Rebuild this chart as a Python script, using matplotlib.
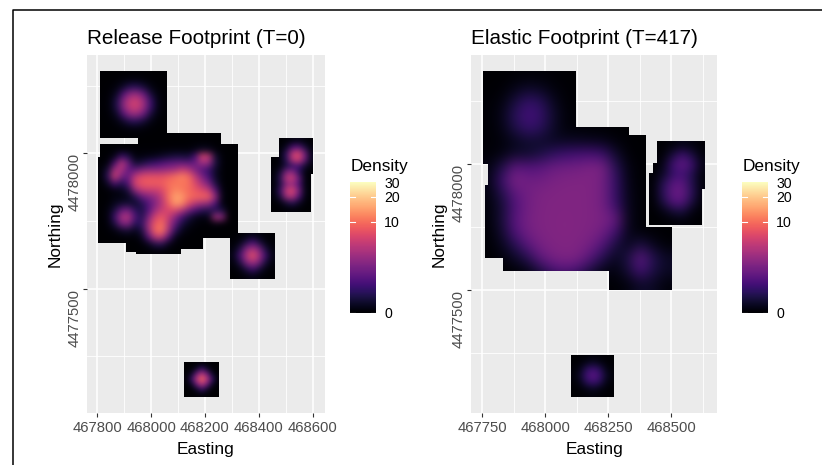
import numpy as np
import matplotlib
matplotlib.use("Agg")
import matplotlib.pyplot as plt
from matplotlib.cm import ScalarMappable
from matplotlib.colors import FuncNorm
from matplotlib.lines import Line2D
from matplotlib.path import Path
from matplotlib.ticker import FixedLocator

plt.rcParams['font.family'] = ['Liberation Sans', 'DejaVu Sans']

# 1) Left panel density, read off the picture on coarse grids (north to south)
rel_top = [
    [0, 0, .005, .01, .02, .02, .01, .005, 0, 0],
    [0, .005, .03, .07, .11, .12, .08, .03, .01, 0],
    [.003, .03, .1, .33, .7, .7, .4, .13, .03, .005],
    [.01, .06, .3, 1.4, 3, 3.1, 1.7, .4, .09, .015],
    [.015, .09, .6, 2.8, 5.2, 5.6, 3.2, .9, .13, .02],
    [.015, .09, .6, 2.8, 5.2, 5.6, 3.2, .9, .13, .02],
    [.01, .06, .3, 1.4, 3, 3.1, 1.7, .4, .09, .015],
    [.003, .03, .1, .33, .7, .7, .4, .13, .03, .005],
    [0, .005, .03, .07, .11, .12, .08, .03, .01, 0],
    [0, 0, .005, .01, .02, .02, .01, .005, 0, 0],
]
rel_main = [
    [0] * 21,
    [0, 0, .005, .01, .005, .005, .005, .005, .01, .01, .01, .01, .01, .02, .03, .04, .03, .01, 0, 0, 0],
    [0, .01, .03, .05, .03, .02, .03, .03, .04, .05, .06, .07, .07, .08, .15, .3, .25, .08, .02, 0, 0],
    [.01, .04, .2, 1, .6, .1, .1, .15, .2, .3, .4, .5, .5, .45, 1.2, 6.5, 5, .4, .05, .01, 0],
    [.02, .1, 1.2, 5, 2, .4, .5, .8, 1, 1.3, 1.6, 1.8, 1.9, 1.7, 2, 3.5, 3, .5, .06, .01, 0],
    [.05, .5, 4, 4.2, 1.7, 1.8, 2.5, 3, 3, 3.2, 3.5, 4, 5.5, 4.5, 2.5, 1.5, .9, .3, .05, .01, 0],
    [.05, .8, 6, 2.2, 1.8, 5, 7, 7.5, 7.5, 7.5, 8.5, 10, 11.5, 9.5, 5, 2.5, 1.2, .3, .05, 0, 0],
    [.02, .3, 1.2, .6, 1.4, 6, 8, 8.5, 8.5, 8.5, 10, 10.5, 10.5, 10, 6.5, 4, 2.2, .5, .06, 0, 0],
    [.01, .05, .1, .2, .5, 3, 5, 5.5, 5.5, 6.5, 9.5, 12, 11, 9.5, 8, 6.5, 5, 1.4, .1, .01, 0],
    [.01, .03, .1, .1, .2, .6, 1.7, 2.4, 3.2, 5, 10, 15, 14, 10, 9, 9, 8.5, 3, .15, .01, 0],
    [.01, .05, .2, .35, .4, .3, .6, 1.4, 2.6, 4.5, 8.5, 14, 12, 7, 4.5, 3.5, 3, 1.2, .1, .01, 0],
    [.01, .1, .5, 1.8, 2.2, .8, .5, 1.4, 3.5, 5.5, 6.5, 6.5, 4.5, 2.2, 1.2, .7, .6, .6, .5, .02, 0],
    [.01, .1, 1, 4, 4.5, 1.4, .6, 2.4, 6, 8, 5.5, 2.8, 1.2, .5, .2, .1, .2, 4, 3, .01, 0],
    [.01, .08, .5, 2.2, 2.6, .7, .8, 3.5, 8, 10, 4.5, 1.7, .5, .2, .08, .03, .02, .1, .05, 0, 0],
    [.01, .03, .1, .3, .4, .2, .5, 3, 9, 10.5, 4, .8, .2, .06, .02, .01, 0, .01, 0, 0, 0],
    [0, .01, .02, .04, .05, .05, .2, 1.4, 4.5, 5, 1.4, .2, .05, .02, 0, 0, 0, 0, 0, 0, 0],
    [0, 0, 0, .01, .01, .01, .05, .2, .6, .7, .2, .05, .01, 0, 0, 0, 0, 0, 0, 0, 0],
    [0, 0, 0, 0, 0, 0, .01, .03, .05, .05, .03, .01, 0, 0, 0, 0, 0, 0, 0, 0, 0],
]
rel_se = [
    [.01, .03, .08, .15, .08, .03, .01],
    [.03, .12, .5, 1.1, .5, .12, .03],
    [.08, .5, 2.4, 4, 2.4, .5, .08],
    [.15, 1.1, 4, 7.5, 4, 1.1, .15],
    [.08, .5, 2.4, 4, 2.4, .5, .08],
    [.03, .12, .5, 1.1, .5, .12, .03],
    [.01, .03, .08, .15, .08, .03, .01],
]
rel_ne = [
    [0, .01, .05, .1, .15, .07, .02],
    [0, .04, .25, 1.2, 1.5, .5, .07],
    [0, .07, .8, 5, 6.5, 2.2, .2],
    [.01, .07, .7, 4.5, 6, 2, .2],
    [.02, .1, .5, .9, 1.2, .4, .07],
    [.05, .4, 2.4, 3, .8, .1, .01],
    [.06, .7, 4.5, 5.5, 2, .15, .01],
    [.05, .5, 2.6, 3.4, 1.4, .15, .01],
    [.07, .9, 5, 6.5, 2.4, .2, .02],
    [.06, .5, 3.4, 4.5, 1.4, .15, .01],
    [.02, .1, .4, .7, .3, .06, .01],
    [0, .02, .05, .06, .05, .01, 0],
]
rel_south = [
    [0, .01, .03, .05, .03, .01, 0],
    [.01, .05, .3, .9, .3, .05, .01],
    [.03, .3, 2, 4.5, 2, .3, .03],
    [.05, .9, 4.5, 9, 4.5, .9, .05],
    [.03, .3, 2, 4.5, 2, .3, .03],
    [.01, .05, .3, .9, .3, .05, .01],
    [0, .01, .03, .05, .03, .01, 0],
]

# 2) Right panel density
ela_main = [
    [0, .01, .03, .05, .05, .03, .01, 0, 0, 0, 0, 0, 0, 0, 0],
    [.01, .03, .16, .32, .26, .1, .03, 0, 0, 0, 0, 0, 0, 0, 0],
    [.03, .1, .47, .88, .75, .26, .05, .02, 0, 0, 0, 0, 0, 0, 0],
    [.03, .16, .7, 1.12, .95, .37, .08, .03, .01, .01, 0, 0, 0, 0, 0],
    [.03, .13, .52, .88, .75, .32, .08, .05, .03, .02, .01, 0, 0, 0, 0],
    [.03, .08, .2, .34, .32, .25, .25, .25, .22, .18, .08, .02, 0, 0, 0],
    [.05, .12, .32, .34, .5, .8, 1, 1.1, 1.2, 1, .35, .05, .01, 0, 0],
    [.12, .55, 1.6, 1.4, 1.5, 1.9, 2.05, 2.15, 2.4, 2.3, .7, .12, .02, 0, 0],
    [.15, 1, 2.4, 2.05, 2.05, 2.3, 2.45, 2.5, 2.5, 2.2, .9, .15, .02, 0, 0],
    [.1, .6, 1.6, 2.1, 2.4, 2.5, 2.55, 2.55, 2.5, 2.2, .9, .18, .03, 0, 0],
    [.08, .4, 1.3, 2.1, 2.45, 2.55, 2.55, 2.55, 2.5, 2.2, 1, .2, .03, 0, 0],
    [.06, .45, 1.5, 2.2, 2.5, 2.55, 2.6, 2.55, 2.5, 2.35, 1.9, .22, .03, 0, 0],
    [.04, .35, 1.3, 2.1, 2.45, 2.55, 2.6, 2.55, 2.45, 2.1, 1.1, .2, .05, .03, 0],
    [.03, .2, .65, 1.5, 2.25, 2.5, 2.55, 2.5, 2.2, 1.4, .5, .18, .52, .2, .05],
    [.01, .08, .26, .63, 1.6, 2.25, 2.45, 2.3, 1.5, .65, .22, .52, 1.7, .63, .26],
    [0, .02, .05, .13, .52, 1.15, 1.45, 1.15, .52, .16, .1, .4, 1.2, .52, .26],
    [0, 0, .01, .03, .08, .2, .32, .2, .08, .03, .03, .1, .32, .26, .08],
]
ela_ne = [
    [0, .02, .08, .16, .1, .03],
    [0, .05, .47, 1.05, .52, .08],
    [.02, .16, 1.05, 1.8, 1.05, .16],
    [.03, .26, .86, 1.15, .63, .08],
    [.05, .63, 1.5, 1.6, .63, .08],
    [.05, .75, 1.8, 1.85, .75, .08],
    [.03, .52, 1.45, 1.5, .52, .05],
    [.02, .13, .4, .52, .13, .02],
    [0, .02, .05, .08, .03, 0],
]
ela_south = [
    [.01, .02, .05, .07, .05, .02, .01],
    [.02, .08, .2, .34, .2, .08, .02],
    [.05, .2, .75, 1.05, .75, .2, .05],
    [.07, .34, 1.05, 1.6, 1.05, .34, .07],
    [.05, .2, .75, 1.05, .75, .2, .05],
    [.02, .08, .2, .34, .2, .08, .02],
    [.01, .02, .05, .07, .05, .02, .01],
]

# 3) Footprint outlines (Easting, Northing) and grid extents
rel_top_out = [(467810, 4478056), (467810, 4478305), (468060, 4478305), (468060, 4478056)]
rel_main_out = [(467801, 4477985), (467810, 4477985), (467810, 4478034), (467950, 4478034),
                (467950, 4478056), (468060, 4478056), (468060, 4478074), (468261, 4478074),
                (468261, 4478034), (468322, 4478034), (468322, 4477706), (468293, 4477706),
                (468293, 4477686), (468194, 4477686), (468194, 4477645), (468112, 4477645),
                (468112, 4477628), (467944, 4477628), (467944, 4477637), (467905, 4477637),
                (467905, 4477668), (467801, 4477668)]
rel_se_out = [(468293, 4477535), (468293, 4477706), (468460, 4477706), (468460, 4477535)]
rel_ne_out = [(468475, 4478055), (468601, 4478055), (468601, 4477924), (468593, 4477924),
              (468593, 4477784), (468444, 4477784), (468444, 4477985), (468475, 4477985)]
rel_south_out = [(468121, 4477099), (468121, 4477230), (468253, 4477230), (468253, 4477099)]
ela_main_out = [(467753, 4477999), (467753, 4478370), (468121, 4478370), (468121, 4478148),
                (468334, 4478148), (468334, 4478116), (468401, 4478116), (468401, 4477749),
                (468501, 4477749), (468501, 4477499), (468252, 4477499), (468252, 4477574),
                (467834, 4477574), (467834, 4477626), (467763, 4477626), (467763, 4477917),
                (467773, 4477917), (467773, 4477999)]
ela_ne_out = [(468443, 4478090), (468634, 4478090), (468634, 4477900), (468623, 4477900),
              (468623, 4477757), (468410, 4477757), (468410, 4477965), (468426, 4477965),
              (468426, 4478005), (468443, 4478005)]
ela_south_out = [(468103, 4477074), (468103, 4477243), (468274, 4477243), (468274, 4477074)]

rel_layers = [(rel_top, rel_top_out), (rel_main, rel_main_out), (rel_se, rel_se_out),
              (rel_ne, rel_ne_out), (rel_south, rel_south_out)]
ela_layers = [(ela_main, ela_main_out), (ela_ne, ela_ne_out), (ela_south, ela_south_out)]

legend_ticks = [0, 10, 20, 30]
rel_xticks = [467800, 468000, 468200, 468400, 468600]
ela_xticks = [467750, 468000, 468250, 468500]
yticks = [4477500, 4478000]

# 4) Figure
W, H = 822, 465
fig = plt.figure(figsize=(W / 100, H / 100), dpi=100, facecolor='white')
norm = FuncNorm((np.log1p, np.expm1), vmin=0, vmax=30)


def px_axes(x0, y0, x1, y1):
    return fig.add_axes([x0 / W, 1 - y1 / H, (x1 - x0) / W, (y1 - y0) / H])


def panel(box, layers, xlim, ylim, xticks, xminor, yminor, title, bar_x):
    ax = px_axes(*box)
    ax.set_facecolor('#EBEBEB')
    for grid, outline in layers:
        xs, ys = zip(*outline)
        im = ax.imshow(grid, extent=(min(xs), max(xs), min(ys), max(ys)), cmap='magma', norm=norm,
                       interpolation='bicubic', interpolation_stage='rgba', aspect='auto', zorder=3)
        im.set_clip_path(Path(list(outline) + [outline[0]]), ax.transData)
    ax.set_xlim(xlim)
    ax.set_ylim(ylim)
    ax.set_xticks(xticks)
    ax.set_yticks(yticks)
    ax.set_xticks(xminor, minor=True)
    ax.set_yticks(yminor, minor=True)
    ax.ticklabel_format(useOffset=False, style='plain')
    ax.grid(True, which='major', color='white', lw=1.1, zorder=1)
    ax.grid(True, which='minor', color='white', lw=0.6, zorder=1)
    ax.set_axisbelow(True)
    ax.tick_params(which='minor', length=0)
    ax.tick_params(which='major', length=2.7, width=0.8, color='#333333', labelcolor='#4D4D4D',
                   labelsize=10.7)
    ax.tick_params(axis='x', which='major', pad=3)
    ax.tick_params(axis='y', which='major', pad=1)
    for lab in ax.get_yticklabels():
        lab.set_rotation(90)
        lab.set_va('top')
    for s in ax.spines.values():
        s.set_visible(False)
    ax.set_title(title, fontsize=14.9, loc='left', pad=8)
    ax.set_xlabel('Easting', fontsize=12.4)
    ax.xaxis.set_label_coords(0.5, -28.5 / (box[3] - box[1]), transform=ax.transAxes)
    ax.set_ylabel('Northing', fontsize=12.4)
    ax.yaxis.set_label_coords(-24.5 / (box[2] - box[0]), 0.5, transform=ax.transAxes)

    # legend bar
    cax = px_axes(bar_x, 182, bar_x + 26, 313)
    cb = fig.colorbar(ScalarMappable(norm=norm, cmap='magma'), cax=cax)
    cb.outline.set_visible(False)
    cb.set_ticks(FixedLocator(legend_ticks))
    cb.ax.tick_params(length=0, labelsize=10.2, labelcolor='black', pad=6)
    for v in legend_ticks[:3]:
        cax.plot([0, .2], [v, v], color='white', lw=0.8, clip_on=False)
        cax.plot([.8, 1], [v, v], color='white', lw=0.8, clip_on=False)
    fig.text((bar_x + 0.5) / W, 1 - 170.5 / H, 'Density', fontsize=12.4, va='baseline')
    return ax


panel((87, 55, 325, 413), rel_layers, (467762, 468646), (4477041, 4478363), rel_xticks,
      [467900, 468100, 468300, 468500], [4477250, 4477750, 4478250],
      'Release Footprint (T=0)', 350)
panel((471, 55, 717, 413), ela_layers, (467706, 468681), (4477012, 4478432), ela_xticks,
      [467875, 468125, 468375, 468625], [4477250, 4477750, 4478250],
      'Elastic Footprint (T=417)', 742)

# 5) Frame of the screenshot, left and top only
fig.add_artist(Line2D([12.5 / W, 12.5 / W, 1], [0, 1 - 10.5 / H, 1 - 10.5 / H],
                      color='black', lw=1.1))

fig.savefig('out.png', dpi=100)
